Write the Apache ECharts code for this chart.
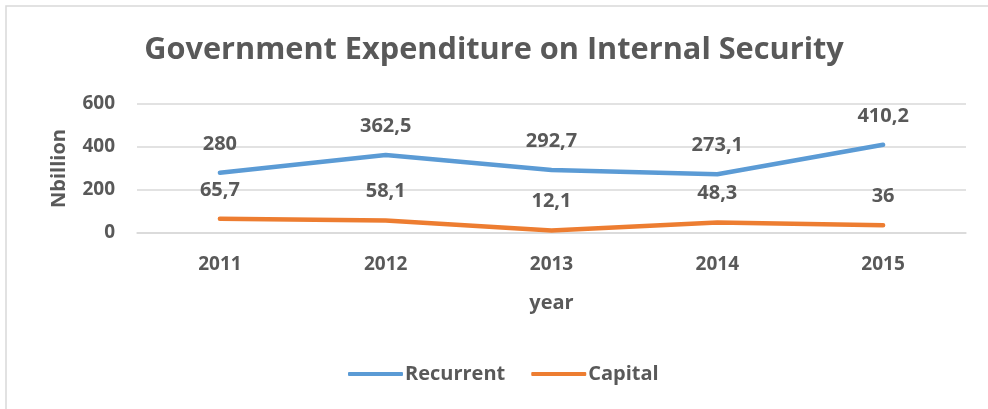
<!DOCTYPE html>
<html>
<head>
<meta charset="utf-8">
<script src="https://cdn.jsdelivr.net/npm/echarts@6/dist/echarts.min.js"></script>
<style>
  html, body { margin: 0; padding: 0; background: #fff; }
  #chart { width: 988px; height: 409px; }
</style>
</head>
<body>
<div id="chart"></div>
<script>
// chart data
const years = ['2011', '2012', '2013', '2014', '2015'];
const recurrent = [280, 362.5, 292.7, 273.1, 410.2];
const capital = [65.7, 58.1, 12.1, 48.3, 36];
const yTicks = { min: 0, max: 600, interval: 200 };

const textColor = '#595959';
const fontFamily = '"Open Sans", Lato, sans-serif';

// decimal comma like the original
const commaLabel = (p) => String(p.value).replace('.', ',');

const chart = echarts.init(document.getElementById('chart'));

const makeSeries = (name, values, color) => ({
  name: name,
  type: 'line',
  data: values,
  symbol: 'circle',
  symbolSize: 0,
  showSymbol: true,
  lineStyle: { color: color, width: 4.5, cap: 'round', join: 'round' },
  itemStyle: { color: color },
  label: {
    show: true,
    position: 'top',
    distance: 19,
    formatter: commaLabel,
    color: textColor,
    fontSize: 20,
    fontWeight: 'bold',
    fontFamily: fontFamily
  },
  emphasis: { disabled: true }
});

chart.setOption({
  animation: false,
  textStyle: { fontFamily: fontFamily },
  title: {
    text: 'Government Expenditure on Internal Security',
    left: 'center',
    top: 30,
    textStyle: { color: textColor, fontSize: 30.7, fontWeight: 'bold', fontFamily: fontFamily }
  },
  graphic: [{
    type: 'rect',
    shape: { x: 6, y: 6, width: 1000, height: 420 },
    style: { fill: 'none', stroke: '#d9d9d9', lineWidth: 1.5 },
    silent: true
  }],
  legend: {
    bottom: 20,
    left: 343,
    itemWidth: 55,
    itemHeight: 4,
    itemGap: 26,
    icon: 'roundRect',
    textStyle: { color: textColor, fontSize: 20, fontWeight: 'bold', fontFamily: fontFamily, padding: [0, 0, 0, -3] },
    data: ['Recurrent', 'Capital']
  },
  grid: { left: 137, right: 22, top: 104, bottom: 176 },
  xAxis: {
    type: 'category',
    data: years,
    name: 'year',
    nameLocation: 'middle',
    nameGap: 60,
    nameTextStyle: { color: textColor, fontSize: 20, fontWeight: 'bold' },
    axisLine: { lineStyle: { color: '#d9d9d9', width: 1.5 } },
    axisTick: { show: false },
    axisLabel: { color: textColor, fontSize: 19, fontWeight: 'bold', margin: 22 }
  },
  yAxis: {
    type: 'value',
    min: yTicks.min,
    max: yTicks.max,
    interval: yTicks.interval,
    name: 'Nbillion',
    nameLocation: 'middle',
    nameRotate: 90,
    nameGap: 68,
    nameTextStyle: { color: textColor, fontSize: 20, fontWeight: 'bold' },
    axisLine: { show: false },
    axisTick: { show: false },
    splitLine: { lineStyle: { color: '#d9d9d9', width: 1.5 } },
    axisLabel: { color: textColor, fontSize: 19, fontWeight: 'bold', margin: 22 }
  },
  series: [
    makeSeries('Recurrent', recurrent, '#5b9bd5'),
    makeSeries('Capital', capital, '#ed7d31')
  ]
});
</script>
</body>
</html>
